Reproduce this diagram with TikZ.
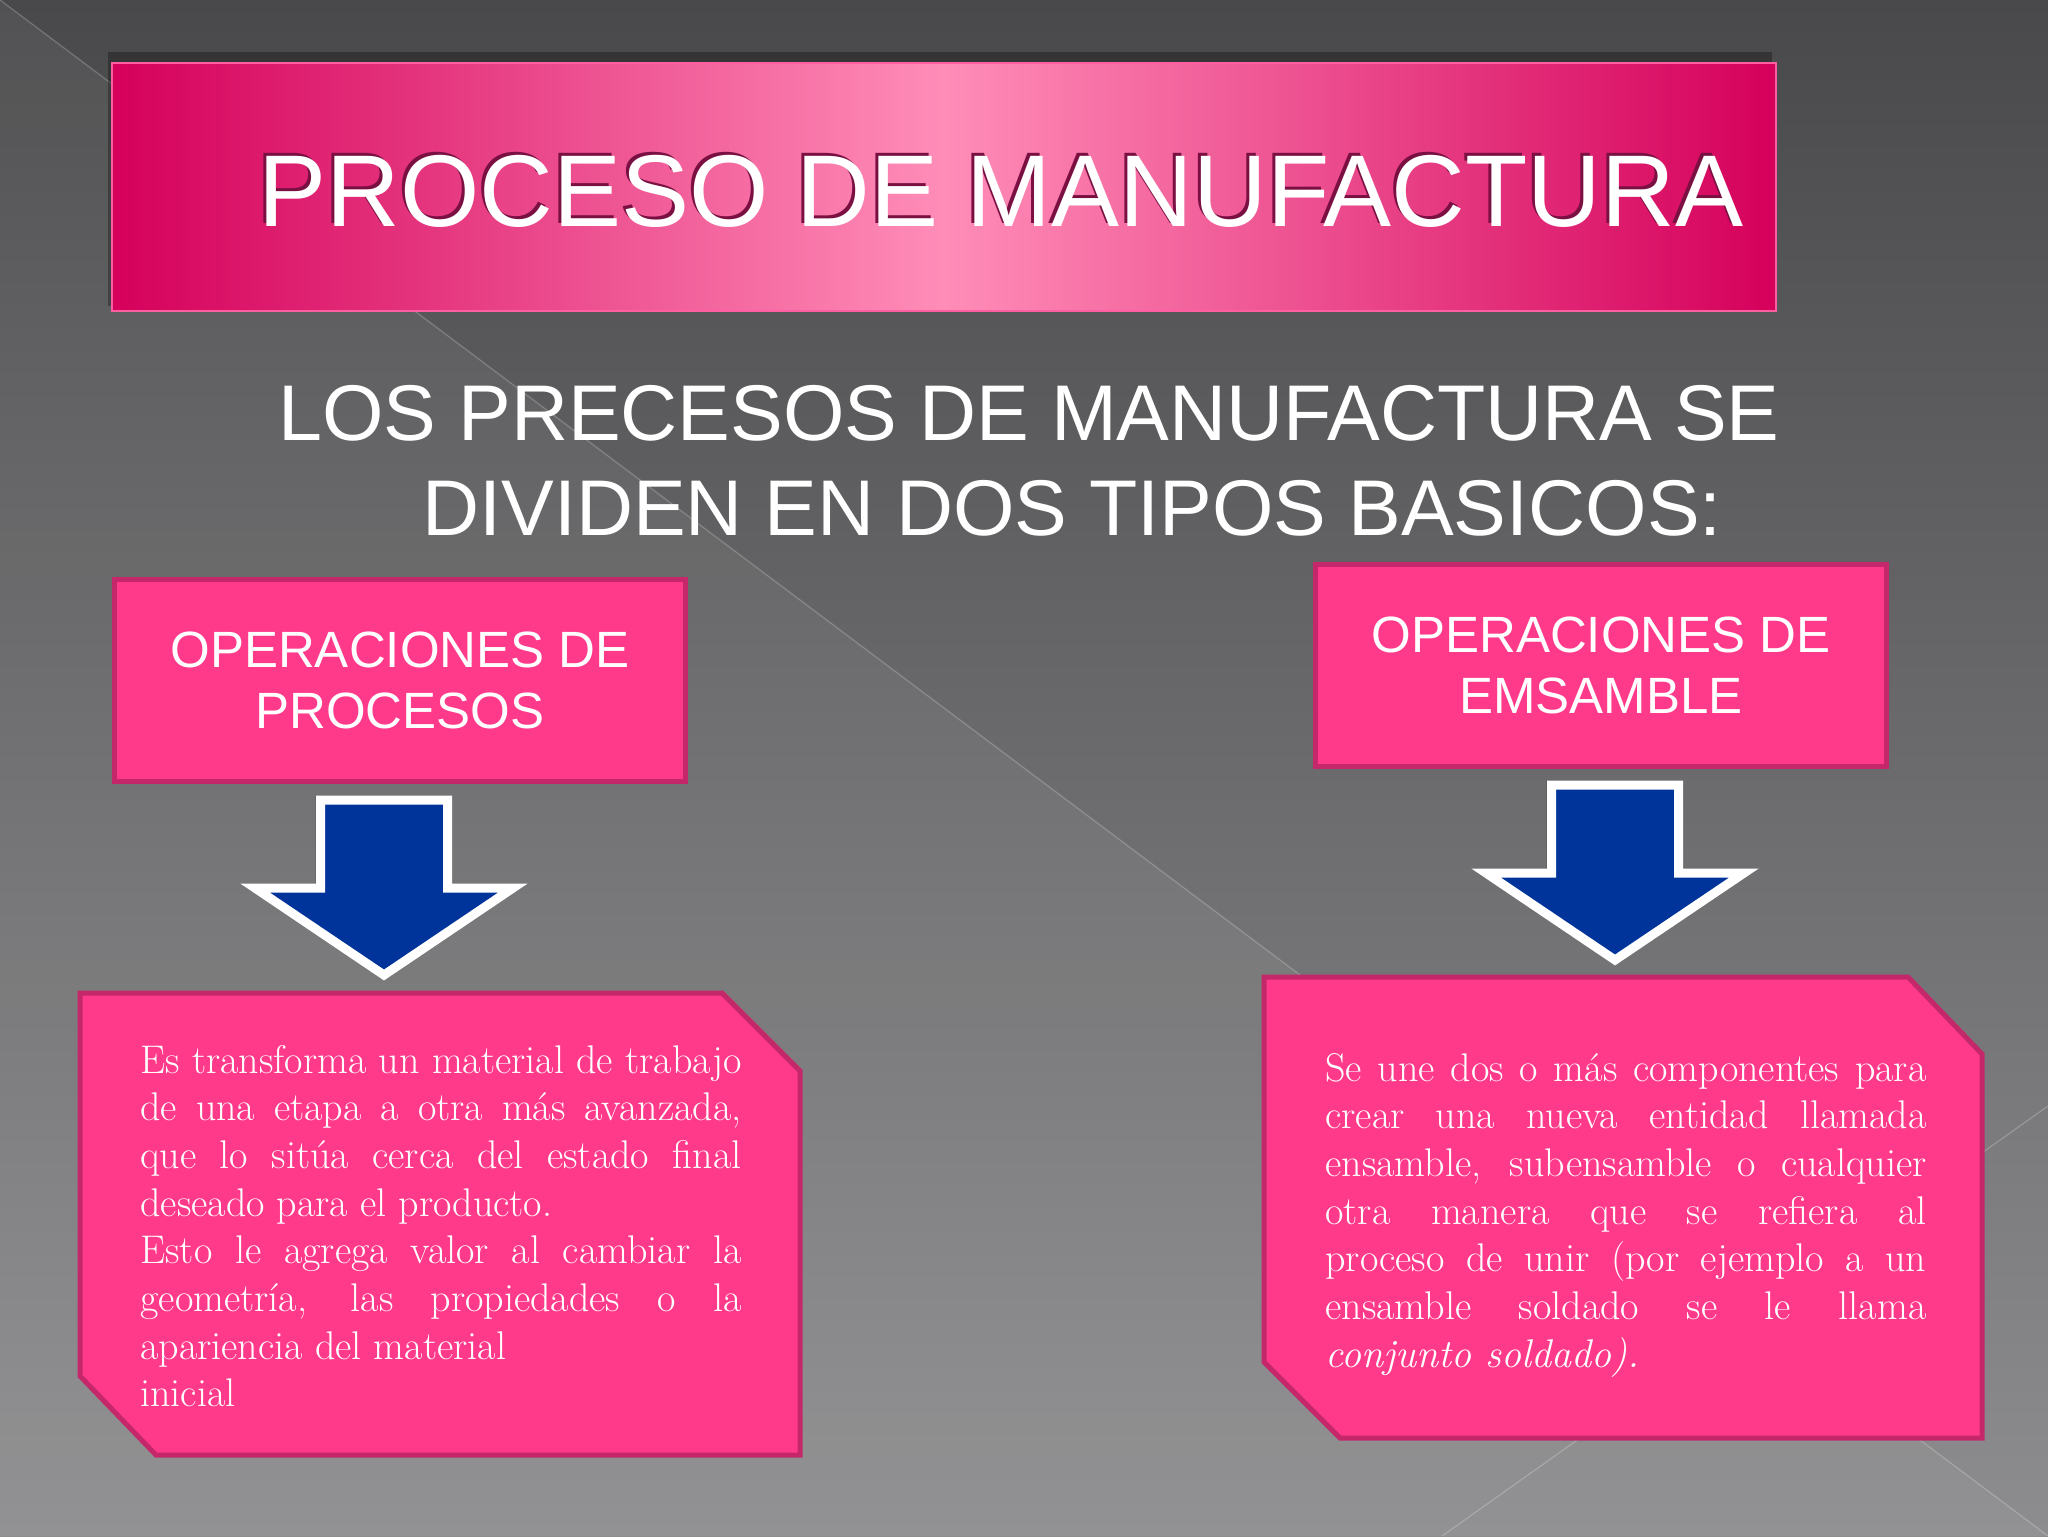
\documentclass[tikz,border=0pt]{standalone}
\usepackage{fontspec}
\newfontfamily\arialfont{Liberation Sans}

\definecolor{bgtop}{HTML}{49494B}
\definecolor{bgbot}{HTML}{8D8D8F}
\definecolor{pinkfill}{HTML}{FF3A8A}
\definecolor{pinkedge}{HTML}{C4286B}
\definecolor{bannerdark}{HTML}{D5005B}
\definecolor{bannerlight}{HTML}{FF8DB8}
\definecolor{bannerline}{HTML}{FF5FA0}
\definecolor{titleshade}{HTML}{7A1042}
\definecolor{arrowblue}{HTML}{00349B}

\begin{document}
\begin{tikzpicture}[x=0.5pt, y=-0.5pt,
	facet/.style={draw=white, opacity=0.22, line width=0.6pt},
	headbox/.style={draw=pinkedge, line width=2.5pt, fill=pinkfill, text=white, align=center,
		font=\arialfont\fontsize{25.5}{30.5}\selectfont, minimum width=285.5pt, minimum height=101pt, inner sep=0pt},
	bigtext/.style={text=white, inner sep=0pt, anchor=base west, font=\arialfont\fontsize{39.5}{47.5}\selectfont},
	titletext/.style={inner sep=0pt, anchor=base west, font=\arialfont\fontsize{51}{60}\selectfont},
	downarrow/.style={draw=white, line width=4.5pt, fill=arrowblue, line join=miter},
	bodybox/.style={draw=pinkedge, line width=2.5pt, fill=pinkfill, line join=miter},
	bodytext/.style={text=white, text width=300.5pt, align=justify, inner sep=0pt, anchor=base west,
		font=\fontsize{20}{23.85}\selectfont}]

\useasboundingbox (0,0) rectangle (2048,1536);

% background facets
\fill[top color=bgtop, bottom color=bgbot] (0,0) rectangle (2048,1536);
\fill[white, opacity=0.05] (0,0) -- (2048,1536) -- (0,1536) -- cycle;
\draw[facet] (0,0) -- (2048,1536);
\draw[facet] (2048,1106) -- (1442,1536);

% title banner
\fill[black, opacity=0.3] (108,52) rectangle (1772,306);
\node[draw=bannerline, line width=0.8pt, left color=bannerdark, right color=bannerdark, middle color=bannerlight,
	minimum width=832pt, minimum height=124pt, inner sep=0pt] (banner) at (944,187) {};
\node[titletext, text=titleshade] (titleshadow) at (255,223) {PROCESO DE MANUFACTURA};
\node[titletext, text=white] (title) at (258,226) {PROCESO DE MANUFACTURA};

\node[bigtext] (sub1) at (278,440) {LOS PRECESOS DE MANUFACTURA SE};
\node[bigtext] (sub2) at (422,535) {DIVIDEN EN DOS TIPOS BASICOS:};

% the two kinds
\node[headbox] (procesos) at (400,680.5) {OPERACIONES DE\\PROCESOS};
\node[headbox] (ensamble) at (1601,665) {OPERACIONES DE\\EMSAMBLE};

\foreach \x/\y in {384/800,1615/785} {
	\fill[black, opacity=0.3, xshift=-2.5pt, yshift=2pt] (\x-63.5,\y) -- (\x+63.5,\y) -- (\x+63.5,\y+88) -- (\x+129,\y+88) -- (\x,\y+175) -- (\x-129,\y+88) -- (\x-63.5,\y+88) -- cycle;
	\draw[downarrow] (\x-63.5,\y) -- (\x+63.5,\y) -- (\x+63.5,\y+88) -- (\x+129,\y+88) -- (\x,\y+175) -- (\x-129,\y+88) -- (\x-63.5,\y+88) -- cycle;
}

\draw[bodybox] (80,993) -- (722,993) -- (800,1071) -- (800,1455) -- (156,1455) -- (80,1376) -- cycle;
\draw[bodybox] (1264,977) -- (1908,977) -- (1982,1054) -- (1982,1438) -- (1340,1438) -- (1264,1362) -- cycle;

\node[bodytext] (procesostext) at (140,1073) {Es transforma un material de trabajo\linebreak
	de una etapa a otra más avanzada,\linebreak
	que lo sitúa cerca del estado final\linebreak
	deseado para el producto.\par
	Esto le agrega valor al cambiar la\linebreak
	geometría, las propiedades o la\linebreak
	apariencia del material\\
	inicial};
\node[bodytext] (ensambletext) at (1325,1081) {Se une dos o más componentes para\linebreak
	crear una nueva entidad llamada\linebreak
	ensamble, subensamble o cualquier\linebreak
	otra manera que se refiera al\linebreak
	proceso de unir (por ejemplo a un\linebreak
	ensamble soldado se le llama\linebreak
	\textit{conjunto soldado).}};

\end{tikzpicture}
\end{document}
